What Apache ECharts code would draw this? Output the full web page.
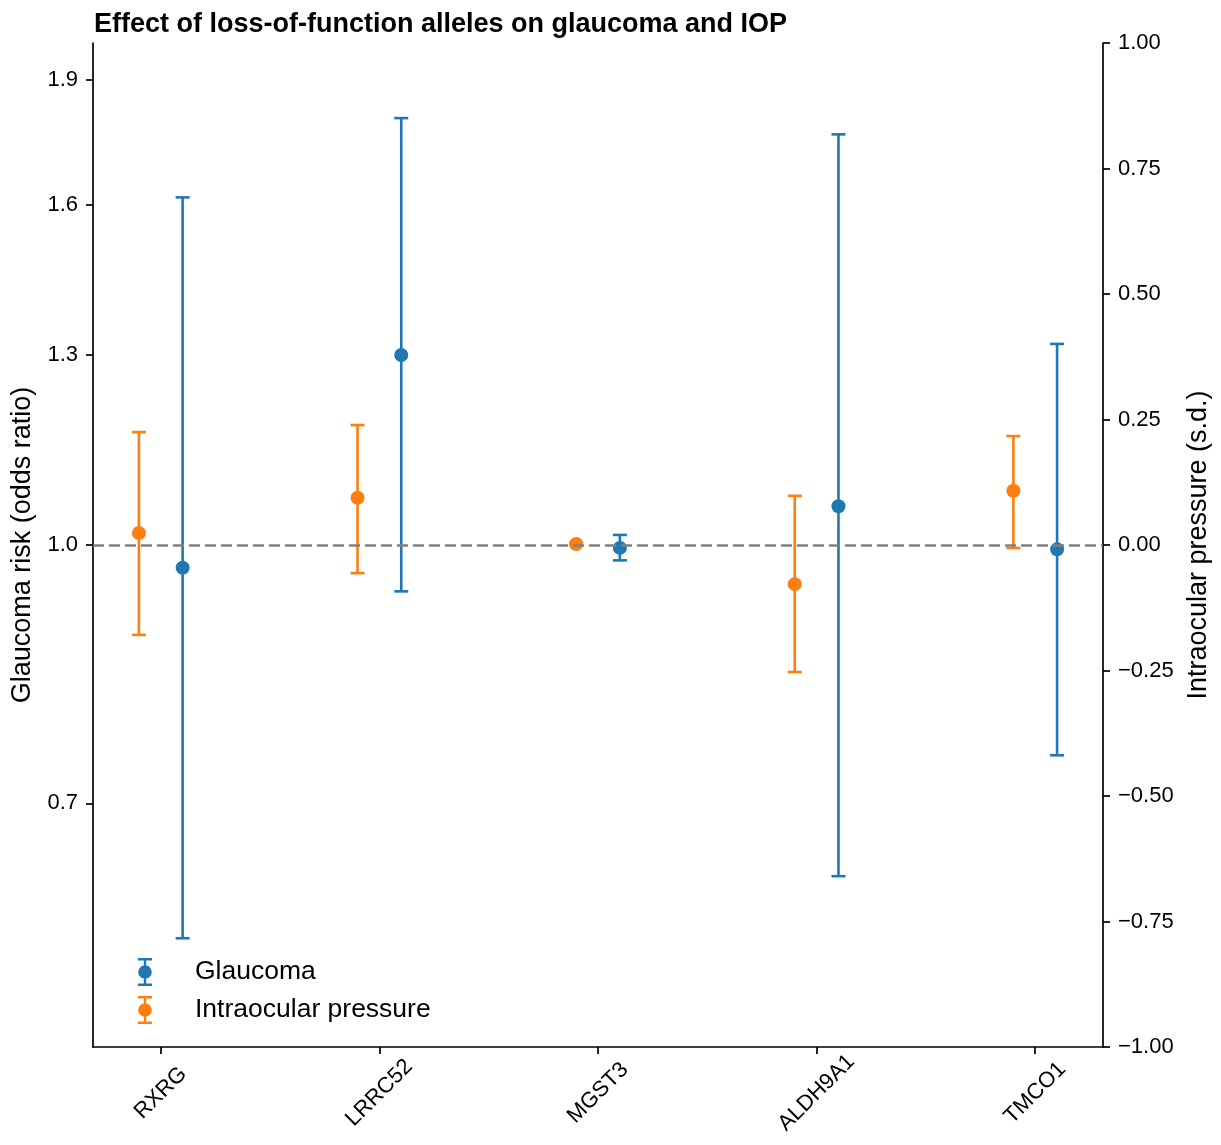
<!DOCTYPE html>
<html>
<head>
<meta charset="utf-8">
<script src="https://cdn.jsdelivr.net/npm/echarts@6/dist/echarts.min.js"></script>
<style>html,body{margin:0;padding:0;background:#fff}#c{width:1221px;height:1145px}</style>
</head>
<body>
<div id="c"></div>
<script>
const genes = ['RXRG', 'LRRC52', 'MGST3', 'ALDH9A1', 'TMCO1'];
const glaucomaOR = [0.969, 1.30, 0.996, 1.055, 0.994];
const glaucomaLow = [0.581, 0.938, 0.979, 0.633, 0.748];
const glaucomaHigh = [1.616, 1.803, 1.014, 1.763, 1.320];
const iopBeta = [0.024, 0.094, 0.002, -0.078, 0.108];
const iopLow = [-0.179, -0.056, 0.000, -0.253, -0.006];
const iopHigh = [0.225, 0.239, 0.004, 0.098, 0.217];
const leftTicks = [0.7, 1.0, 1.3, 1.6, 1.9];
const geneTicks = [0, 1, 2, 3, 4];

const BLUE = '#1f77b4', ORANGE = '#ff7f0e';
const FONT = 'Liberation Sans, Arial, sans-serif';
const OFF = 0.1;

const glauPts = genes.map((g, i) => [i + OFF, glaucomaOR[i]]);
const glauBars = genes.map((g, i) => [i + OFF, glaucomaLow[i], glaucomaHigh[i]]);
const iopPts = genes.map((g, i) => [i - OFF, iopBeta[i]]);
const iopBars = genes.map((g, i) => [i - OFF, iopLow[i], iopHigh[i]]);

function errRender(color) {
  return function (params, api) {
    const x = api.value(0);
    const lo = api.coord([x, api.value(1)]);
    const hi = api.coord([x, api.value(2)]);
    const cw = 7;
    const style = { stroke: color, lineWidth: 2.6 };
    return {
      type: 'group',
      children: [
        { type: 'line', shape: { x1: lo[0], y1: lo[1], x2: hi[0], y2: hi[1] }, style },
        { type: 'line', shape: { x1: lo[0] - cw, y1: lo[1], x2: lo[0] + cw, y2: lo[1] }, style },
        { type: 'line', shape: { x1: hi[0] - cw, y1: hi[1], x2: hi[0] + cw, y2: hi[1] }, style }
      ]
    };
  };
}

const iconPath = 'path://M0,0 L14,0 L14,2.4 L0,2.4 Z M5.8,0 L8.2,0 L8.2,28 L5.8,28 Z M0,25.6 L14,25.6 L14,28 L0,28 Z M13.8,14 A6.8,6.8 0 1,1 0.2,14 A6.8,6.8 0 1,1 13.8,14 Z';

const axisLineStyle = { color: '#000', width: 1.7 };
const chart = echarts.init(document.getElementById('c'));
chart.setOption({
  animation: false,
  backgroundColor: '#fff',
  textStyle: { fontFamily: FONT },
  title: {
    text: 'Effect of loss-of-function alleles on glaucoma and IOP',
    left: 89, top: 6,
    textStyle: { fontFamily: FONT, fontSize: 27, fontWeight: 'bold', color: '#000' }
  },
  grid: { left: 93, right: 118, top: 43, bottom: 98, containLabel: false },
  legend: {
    orient: 'vertical', left: 133, top: 953,
    itemWidth: 90, itemHeight: 28, itemGap: 10,
    symbolKeepAspect: true,
    textStyle: { fontFamily: FONT, fontSize: 26.5, color: '#000' },
    data: [
      { name: 'Glaucoma', icon: iconPath, itemStyle: { color: BLUE } },
      { name: 'Intraocular pressure', icon: iconPath, itemStyle: { color: ORANGE } }
    ]
  },
  xAxis: {
    type: 'value', min: -0.31, max: 4.31,
    splitLine: { show: false },
    axisLine: { show: true, onZero: false, lineStyle: axisLineStyle },
    axisTick: { show: true, length: 7, lineStyle: axisLineStyle, customValues: geneTicks },
    axisLabel: {
      customValues: geneTicks, rotate: 45, align: 'center', verticalAlign: 'middle', margin: 46,
      fontFamily: FONT, fontSize: 22, color: '#000',
      formatter: v => genes[Math.round(v)] || ''
    }
  },
  yAxis: [
    {
      type: 'log', logBase: 10, min: 0.5, max: 2, position: 'left',
      name: 'Glaucoma risk (odds ratio)', nameLocation: 'middle', nameRotate: 90, nameGap: 57,
      nameTextStyle: { fontFamily: FONT, fontSize: 27, color: '#000' },
      splitLine: { show: false },
      axisLine: { show: true, onZero: false, lineStyle: axisLineStyle },
      axisTick: { show: true, length: 7, lineStyle: axisLineStyle, customValues: leftTicks },
      axisLabel: {
        customValues: leftTicks, fontFamily: FONT, fontSize: 22, color: '#000', margin: 15,
        formatter: v => Number(v).toFixed(1)
      }
    },
    {
      type: 'value', min: -1, max: 1, interval: 0.25, position: 'right',
      name: 'Intraocular pressure (s.d.)', nameLocation: 'middle', nameRotate: 90, nameGap: 77,
      nameTextStyle: { fontFamily: FONT, fontSize: 27, color: '#000' },
      splitLine: { show: false },
      axisLine: { show: true, onZero: false, lineStyle: axisLineStyle },
      axisTick: { show: true, length: 7, lineStyle: axisLineStyle },
      axisLabel: {
        fontFamily: FONT, fontSize: 22, color: '#000', margin: 15,
        formatter: v => { const s = Math.abs(v).toFixed(2); return v < -1e-9 ? '\u2212' + s : s; }
      }
    }
  ],
  series: [
    {
      name: 'Glaucoma', type: 'custom', xAxisIndex: 0, yAxisIndex: 0,
      renderItem: errRender(BLUE), data: glauBars, z: 3,
      itemStyle: { color: BLUE }, encode: { x: 0, y: [1, 2] },
      markLine: {
        silent: true, symbol: 'none', label: { show: false },
        lineStyle: { color: '#808080', type: [11, 5], width: 2.6 },
        data: [{ yAxis: 1.0 }]
      }
    },
    {
      name: 'Glaucoma', type: 'scatter', xAxisIndex: 0, yAxisIndex: 0,
      data: glauPts, symbolSize: 14, itemStyle: { color: BLUE, opacity: 1 }, z: 4
    },
    {
      name: 'Intraocular pressure', type: 'custom', xAxisIndex: 0, yAxisIndex: 1,
      renderItem: errRender(ORANGE), data: iopBars, z: 3,
      itemStyle: { color: ORANGE }, encode: { x: 0, y: [1, 2] }
    },
    {
      name: 'Intraocular pressure', type: 'scatter', xAxisIndex: 0, yAxisIndex: 1,
      data: iopPts, symbolSize: 14, itemStyle: { color: ORANGE, opacity: 1 }, z: 4
    }
  ]
});
</script>
</body>
</html>
